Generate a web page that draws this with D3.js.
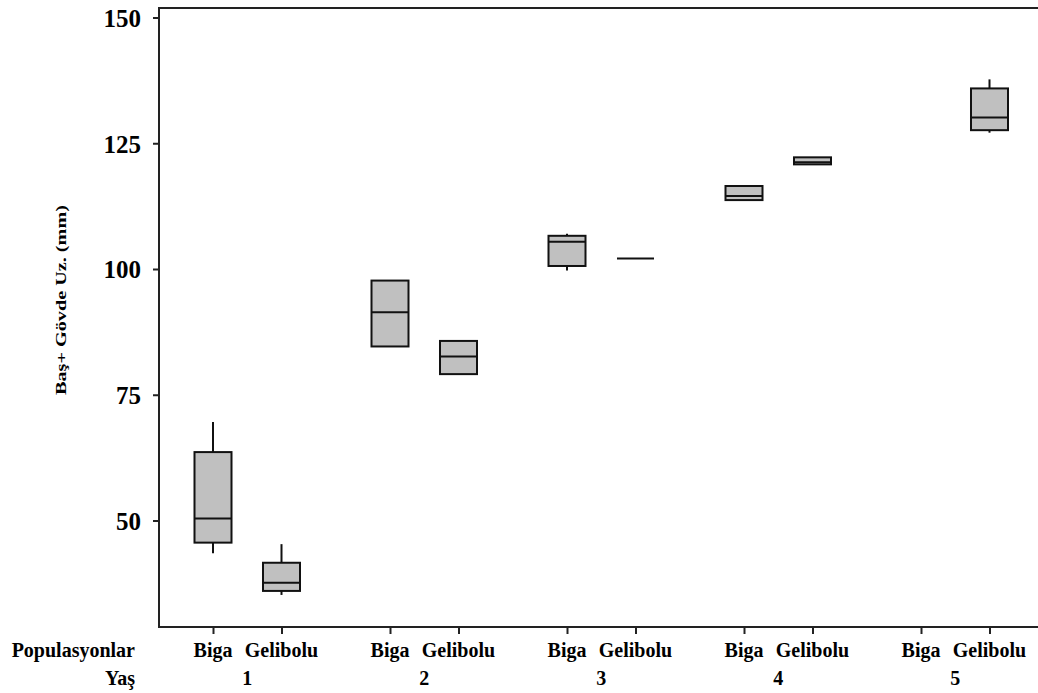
<!DOCTYPE html>
<html>
<head>
<meta charset="utf-8">
<script src="https://cdn.jsdelivr.net/npm/d3@7"></script>
<style>
  html, body { margin: 0; padding: 0; background: #fff; }
  svg { display: block; }
  text { font-family: "Liberation Serif", "Times New Roman", serif; font-weight: bold; fill: #000; }
</style>
</head>
<body>
<svg id="chart" width="1038" height="693"></svg>
<script>
// ---- Data ----
const ages = ["1", "2", "3", "4", "5"];
const populations = ["Biga", "Gelibolu"];
const yTicks = [50, 75, 100, 125, 150];
// Per series in order: Biga1, Gelibolu1, Biga2, Gelibolu2, ... (null = no data)
const whiskerLow  = [43.5, 35.2, 84.6, 79.1, 99.7, 102.1, 113.7, 120.8, null, 127.1];
const q1Values    = [45.6, 36.0, 84.6, 79.1, 100.6, 102.1, 113.7, 120.8, null, 127.6];
const medians     = [50.4, 37.6, 91.4, 82.6, 105.4, 102.1, 114.5, 121.2, null, 130.1];
const q3Values    = [63.6, 41.6, 97.7, 85.7, 106.6, 102.1, 116.5, 122.2, null, 135.9];
const whiskerHigh = [69.6, 45.3, 97.7, 85.7, 107.0, 102.1, 116.5, 122.2, null, 137.7];

// ---- Layout ----
const svg = d3.select("#chart");
const frameLeft = 159, frameTop = 8, frameBottom = 627, frameRight = 1040;
const popOffset = 0.387; // Gelibolu position offset in group units

const y = d3.scaleLinear().domain([50, 150]).range([520.5, 17.5]);
const x = d3.scaleLinear().domain([0, 4]).range([213, 921]);
const boxW = 37;

const series = [];
ages.forEach((a, gi) => {
  populations.forEach((p, pi) => {
    const i = gi * 2 + pi;
    series.push({
      age: a, pop: p, pos: gi + pi * popOffset,
      lo: whiskerLow[i], q1: q1Values[i], med: medians[i], q3: q3Values[i], hi: whiskerHigh[i]
    });
  });
});

// frame lines (left, top, bottom)
svg.append("line").attr("x1", frameLeft).attr("x2", frameRight).attr("y1", frameTop).attr("y2", frameTop)
  .attr("stroke", "#222").attr("stroke-width", 2);
svg.append("line").attr("x1", frameLeft).attr("x2", frameRight).attr("y1", frameBottom).attr("y2", frameBottom)
  .attr("stroke", "#222").attr("stroke-width", 2);
svg.append("line").attr("x1", frameLeft).attr("x2", frameLeft).attr("y1", frameTop - 1).attr("y2", frameBottom + 1)
  .attr("stroke", "#222").attr("stroke-width", 2);

// y axis via d3.axisLeft
const yAxis = d3.axisLeft(y).tickValues(yTicks).tickSize(6).tickPadding(12).tickFormat(d3.format("d"));
const gy = svg.append("g").attr("transform", `translate(${frameLeft},0)`).call(yAxis);
gy.select(".domain").remove();
gy.selectAll(".tick line").attr("stroke", "#222").attr("stroke-width", 2);
gy.selectAll(".tick text").style("font-size", "25px").style("font-family", "Liberation Serif, serif")
  .style("font-weight", "bold").attr("dy", "0.35em");

// x axis via d3.axisBottom
const xAxis = d3.axisBottom(x).tickValues(series.map(s => s.pos)).tickSize(7).tickFormat(() => "");
const gx = svg.append("g").attr("transform", `translate(0,${frameBottom})`).call(xAxis);
gx.select(".domain").remove();
gx.selectAll(".tick line").attr("stroke", "#222").attr("stroke-width", 2);

// population labels
svg.selectAll("text.pop").data(series).enter().append("text").attr("class", "pop")
  .attr("x", d => x(d.pos)).attr("y", 657).attr("text-anchor", "middle")
  .style("font-size", "20px").text(d => d.pop);
// age labels
svg.selectAll("text.age").data(ages).enter().append("text").attr("class", "age")
  .attr("x", (d, i) => x(i + popOffset / 2)).attr("y", 685).attr("text-anchor", "middle")
  .style("font-size", "20px").text(d => d);
// row headers
svg.append("text").attr("x", 135).attr("y", 657).attr("text-anchor", "end")
  .style("font-size", "20px").text("Populasyonlar");
svg.append("text").attr("x", 135).attr("y", 685).attr("text-anchor", "end")
  .style("font-size", "20px").text("Yaş");

// y axis title
svg.append("text")
  .attr("transform", `translate(66,300) rotate(-90)`)
  .attr("text-anchor", "middle")
  .attr("textLength", 190).attr("lengthAdjust", "spacingAndGlyphs")
  .style("font-size", "15px")
  .text("Baş+ Gövde Uz. (mm)");

// boxes
const data = series.filter(s => s.med !== null);
const g = svg.append("g");
const box = g.selectAll("g.box").data(data).enter().append("g").attr("class", "box");
box.append("line")
  .attr("x1", d => x(d.pos)).attr("x2", d => x(d.pos))
  .attr("y1", d => y(d.hi)).attr("y2", d => y(d.q3))
  .attr("stroke", "#111").attr("stroke-width", 2);
box.append("line")
  .attr("x1", d => x(d.pos)).attr("x2", d => x(d.pos))
  .attr("y1", d => y(d.q1)).attr("y2", d => y(d.lo))
  .attr("stroke", "#111").attr("stroke-width", 2);
box.append("rect")
  .attr("x", d => x(d.pos) - boxW / 2).attr("width", boxW)
  .attr("y", d => y(d.q3)).attr("height", d => Math.max(0, y(d.q1) - y(d.q3)))
  .attr("fill", "#c0c0c0").attr("stroke", "#111").attr("stroke-width", 2);
box.append("line")
  .attr("x1", d => x(d.pos) - boxW / 2).attr("x2", d => x(d.pos) + boxW / 2)
  .attr("y1", d => y(d.med)).attr("y2", d => y(d.med))
  .attr("stroke", "#111").attr("stroke-width", 2);
</script>
</body>
</html>
